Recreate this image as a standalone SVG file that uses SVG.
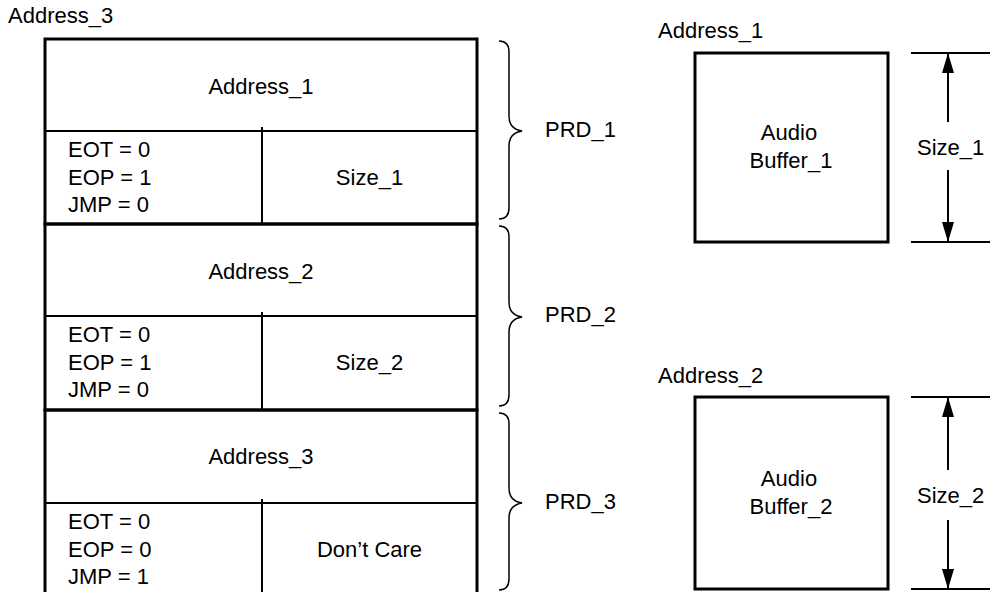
<svg xmlns="http://www.w3.org/2000/svg" width="990" height="592" viewBox="0 0 990 592">
<defs>
<style>
text{font-family:"Liberation Sans",Arial,sans-serif;font-size:22px;fill:#000}
.c{text-anchor:middle}
.thick{fill:none;stroke:#000;stroke-width:3}
.thin{fill:none;stroke:#000;stroke-width:2}
.brace{fill:none;stroke:#000;stroke-width:1.5}
.dim{fill:none;stroke:#000;stroke-width:2}
</style>
<marker id="ah" viewBox="0 0 20 12" refX="20" refY="6" markerWidth="20" markerHeight="12" markerUnits="userSpaceOnUse" orient="auto">
<path d="M0,0 L20,6 L0,12 z" fill="#000"/>
</marker>
</defs>
<rect width="990" height="592" fill="#fff"/>
<text x="8" y="23">Address_3</text>
<g id="prd1">
<rect class="thick" x="45" y="39" width="432" height="185"/>
<line class="thin" x1="45" y1="131" x2="477" y2="131"/>
<line class="thin" x1="262" y1="127" x2="262" y2="224"/>
<text class="c" x="261" y="94">Address_1</text>
<text x="68" y="157">EOT = 0</text>
<text x="68" y="184.5">EOP = 1</text>
<text x="68" y="212">JMP = 0</text>
<text class="c" x="369.5" y="184.5">Size_1</text>
</g>
<g id="prd2">
<rect class="thick" x="45" y="224" width="432" height="186"/>
<line class="thin" x1="45" y1="316" x2="477" y2="316"/>
<line class="thin" x1="262" y1="312" x2="262" y2="410"/>
<text class="c" x="261" y="279">Address_2</text>
<text x="68" y="342">EOT = 0</text>
<text x="68" y="369.5">EOP = 1</text>
<text x="68" y="397">JMP = 0</text>
<text class="c" x="369.5" y="369.5">Size_2</text>
</g>
<g id="prd3">
<rect class="thick" x="45" y="410" width="432" height="190"/>
<line class="thin" x1="45" y1="503" x2="477" y2="503"/>
<line class="thin" x1="262" y1="499" x2="262" y2="600"/>
<text class="c" x="261" y="464">Address_3</text>
<text x="68" y="529">EOT = 0</text>
<text x="68" y="556.5">EOP = 0</text>
<text x="68" y="584">JMP = 1</text>
<text class="c" x="369.5" y="556.5">Don’t Care</text>
</g>
<g id="label-prd1"><text x="545" y="137">PRD_1</text></g>
<g id="label-prd2"><text x="545" y="322">PRD_2</text></g>
<g id="label-prd3"><text x="545" y="509">PRD_3</text></g>
<g id="buffer1">
<text x="658" y="38">Address_1</text>
<rect class="thick" x="695" y="53" width="193" height="189"/>
<text class="c" x="789" y="140">Audio</text>
<text class="c" x="791" y="168">Buffer_1</text>
</g>
<g id="buffer2">
<text x="658" y="383">Address_2</text>
<rect class="thick" x="695" y="397" width="193" height="192"/>
<text class="c" x="789" y="486">Audio</text>
<text class="c" x="791" y="514">Buffer_2</text>
</g>
<g id="size1-label"><text x="917" y="155">Size_1</text></g>
<g id="size2-label"><text x="917" y="503">Size_2</text></g>
<g id="connectors">
<path class="brace" d="M499,41 Q509,41 509,52 L509,116 Q509,129 522,131 Q509,133 509,146 L509,208 Q509,219 499,219"/>
<path class="brace" d="M499,226 Q509,226 509,237 L509,302 Q509,315 522,317 Q509,319 509,332 L509,395 Q509,406 499,406"/>
<path class="brace" d="M499,413 Q509,413 509,424 L509,488 Q509,501 522,503 Q509,505 509,518 L509,579 Q509,590 499,590"/>
<line class="dim" x1="911" y1="53" x2="990" y2="53"/>
<line class="dim" x1="911" y1="242" x2="990" y2="242"/>
<line class="dim" x1="948" y1="122" x2="948" y2="53" marker-end="url(#ah)"/>
<line class="dim" x1="948" y1="170" x2="948" y2="242" marker-end="url(#ah)"/>
<line class="dim" x1="911" y1="397" x2="990" y2="397"/>
<line class="dim" x1="911" y1="589" x2="990" y2="589"/>
<line class="dim" x1="948" y1="470" x2="948" y2="397" marker-end="url(#ah)"/>
<line class="dim" x1="948" y1="520" x2="948" y2="589" marker-end="url(#ah)"/>
</g>
</svg>
